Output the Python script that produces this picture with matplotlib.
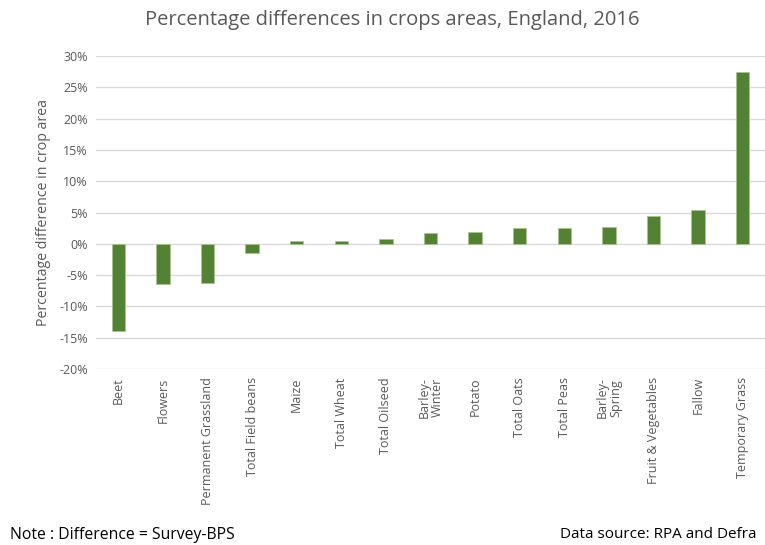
import matplotlib.pyplot as plt
import numpy as np

plt.rcParams['font.family'] = ['Open Sans', 'DejaVu Sans']

# Data
crops = ['Beet', 'Flowers', 'Permanent Grassland', 'Total Field beans', 'Maize',
         'Total Wheat', 'Total Oilseed', 'Barley-\nWinter', 'Potato', 'Total Oats',
         'Total Peas', 'Barley-\nSpring', 'Fruit & Vegetables', 'Fallow', 'Temporary Grass']
diff_pct = [-13.9, -6.4, -6.2, -1.45, 0.5, 0.5, 0.75, 1.7, 1.9, 2.5, 2.5, 2.7, 4.45, 5.4, 27.4]
yticks = [-20, -15, -10, -5, 0, 5, 10, 15, 20, 25, 30]

text_col = '#595959'

fig = plt.figure(figsize=(7.65, 5.45), dpi=100)
ax = fig.add_axes([96 / 765, 1 - 369 / 545, (765 - 96) / 765, (369 - 56) / 545])

x = np.arange(len(crops))
ax.bar(x, diff_pct, width=0.3, color='#548235', edgecolor='#a9c48f', linewidth=0.6, zorder=3)

ax.set_ylim(-20, 30)
ax.set_xlim(-0.5, len(crops) - 0.5)
ax.set_yticks(yticks)
ax.set_yticklabels([f'{t}%' for t in yticks], color=text_col, fontsize=9)
ax.set_xticks(x)
ax.set_xticklabels(crops, rotation=90, color=text_col, fontsize=9, va='top',
                   linespacing=1.05)
ax.tick_params(axis='both', length=0, pad=6)
ax.grid(axis='y', color='#d9d9d9', linewidth=1, zorder=0)
for s in ax.spines.values():
    s.set_visible(False)

ax.set_ylabel('Percentage difference in crop area', color=text_col, fontsize=10.2, labelpad=6)

fig.text(392 / 765, 1 - 20 / 545, 'Percentage differences in crops areas, England, 2016',
         ha='center', va='center', fontsize=14.5, color=text_col)
fig.text(10 / 765, 1 - 535 / 545, 'Note : Difference = Survey-BPS',
         ha='left', va='center', fontsize=11.3, color='black')
fig.text(757 / 765, 1 - 535 / 545, 'Data source: RPA and Defra',
         ha='right', va='center', fontsize=11, color='black')

fig.savefig('out.png', dpi=100)
